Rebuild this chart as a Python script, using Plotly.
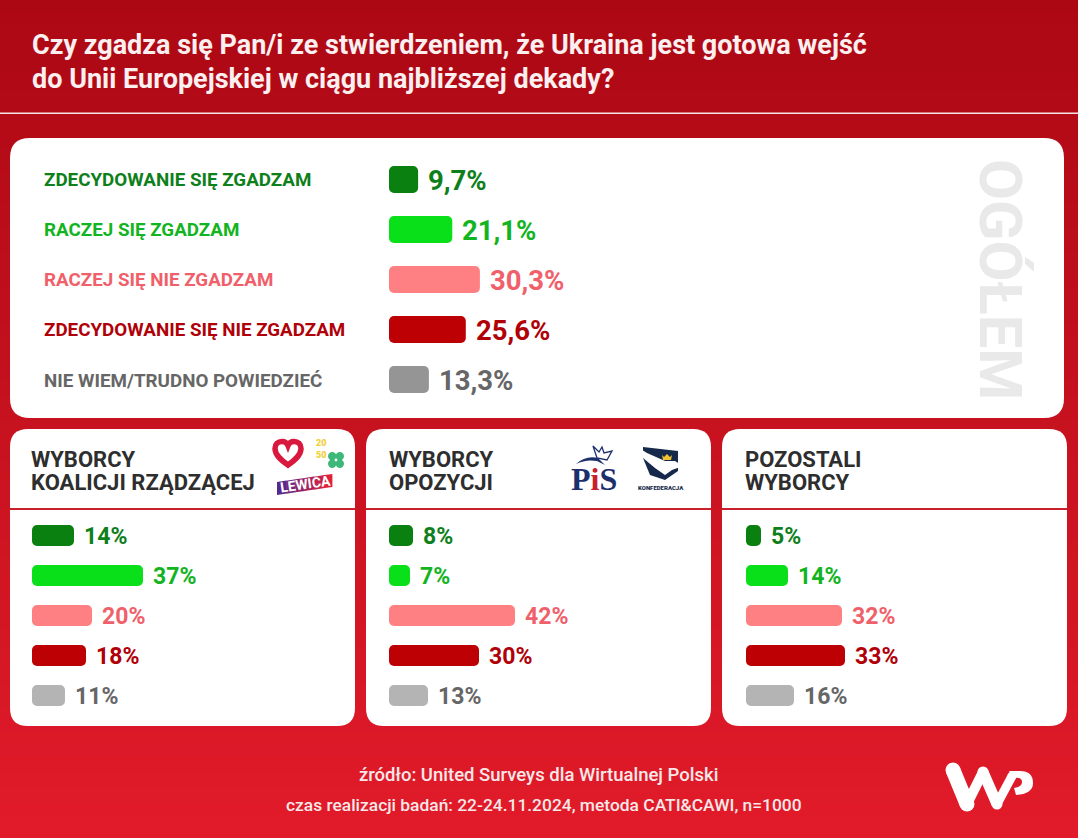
import plotly.graph_objects as go

W, H = 1078, 838

ANSWERS = [
    "ZDECYDOWANIE SIĘ ZGADZAM",
    "RACZEJ SIĘ ZGADZAM",
    "RACZEJ SIĘ NIE ZGADZAM",
    "ZDECYDOWANIE SIĘ NIE ZGADZAM",
    "NIE WIEM/TRUDNO POWIEDZIEĆ",
]
OVERALL = [9.7, 21.1, 30.3, 25.6, 13.3]
COALITION = [14, 37, 20, 18, 11]
OPPOSITION = [8, 7, 42, 30, 13]
OTHERS = [5, 14, 32, 33, 16]

BAR_COLORS = ["#0A8011", "#0AE01A", "#FF8082", "#BC0004", "#959595"]
SMALL_BAR_COLORS = ["#0A8011", "#0AE01A", "#FF8082", "#BC0004", "#B4B4B4"]
TEXT_COLORS = ["#0E801B", "#12B421", "#F0606A", "#B00008", "#666666"]

TITLE_LINES = [
    "Czy zgadza się Pan/i ze stwierdzeniem, że Ukraina jest gotowa wejść",
    "do Unii Europejskiej w ciągu najbliższej dekady?",
]
PANEL_TITLES = [
    ["WYBORCY", "KOALICJI RZĄDZĄCEJ"],
    ["WYBORCY", "OPOZYCJI"],
    ["POZOSTALI", "WYBORCY"],
]
SOURCE = "źródło: United Surveys dla Wirtualnej Polski"
METHOD = "czas realizacji badań: 22-24.11.2024, metoda CATI&CAWI, n=1000"

FONT = "Roboto"


def rounded(x0, y0, x1, y1, r):
    return (
        f"M {x0 + r} {y0} L {x1 - r} {y0} Q {x1} {y0} {x1} {y0 + r} "
        f"L {x1} {y1 - r} Q {x1} {y1} {x1 - r} {y1} L {x0 + r} {y1} "
        f"Q {x0} {y1} {x0} {y1 - r} L {x0} {y0 + r} Q {x0} {y0} {x0 + r} {y0} Z"
    )


def mix(a, b, t):
    return "rgb(%d,%d,%d)" % tuple(round(a[i] + (b[i] - a[i]) * t) for i in range(3))


shapes = []
annotations = []


def rect(x0, y0, x1, y1, color, layer="below"):
    shapes.append(dict(type="rect", xref="x", yref="y", x0=x0, y0=y0, x1=x1, y1=y1,
                       fillcolor=color, line_width=0, layer=layer))


def path(d, fill=None, line=None, width=0):
    shapes.append(dict(type="path", xref="x", yref="y", path=d, layer="above",
                       fillcolor=fill or "rgba(0,0,0,0)",
                       line=dict(color=line or "rgba(0,0,0,0)", width=width)))


def circle(cx, cy, r, color):
    shapes.append(dict(type="circle", xref="x", yref="y", x0=cx - r, y0=cy - r,
                       x1=cx + r, y1=cy + r, fillcolor=color, line_width=0, layer="above"))


def stroke(a, b, width, color="white"):
    # straight stroke with round ends
    path(f"M {a[0]} {a[1]} L {b[0]} {b[1]}", line=color, width=width)
    circle(a[0], a[1], width / 2, color)
    circle(b[0], b[1], width / 2, color)


def text(x, y, s, size, color, anchor="left", weight=400, family=FONT, angle=0):
    # annotations carry about 2 px of padding on the left
    if anchor == "left":
        x -= 2
    annotations.append(dict(xref="x", yref="y", x=x, y=y, text=s, showarrow=False,
                            xanchor=anchor, yanchor="middle", textangle=angle,
                            font=dict(family=family, size=size, color=color, weight=weight)))


# background
for y in range(0, H, 6):
    rect(0, y, W, y + 6, mix((172, 8, 20), (226, 27, 42), y / H))
rect(0, 112.5, W, 114, "#F4E6E6")

# panels
PANELS = [(10, 355), (366, 711), (722, 1067)]
shapes.append(dict(type="path", xref="x", yref="y", path=rounded(10, 138, 1064, 418, 20),
                   fillcolor="white", line_width=0, layer="below"))
for x0, x1 in PANELS:
    shapes.append(dict(type="path", xref="x", yref="y", path=rounded(x0, 429, x1, 726, 18),
                       fillcolor="white", line_width=0, layer="below"))
    rect(x0, 508, x1, 510, "#C9202C")

# texts
for y, line in zip([45, 79], TITLE_LINES):
    text(32, y, line, 27, "#FBEFEF", weight=700)
text(538, 775, SOURCE, 18.5, "#F8E8E8", "center", 500)
text(544, 805, METHOD, 17.4, "#F8E8E8", "center", 500)
text(1000, 279, "OGÓŁEM", 59.5, "#E9E9E9", "center", 700, angle=90)

for i, (name, y) in enumerate(zip(ANSWERS, [180, 230, 280, 330, 381])):
    text(44, y, name, 18.8, TEXT_COLORS[i], weight=700)

for (x0, x1), lines in zip(PANELS, PANEL_TITLES):
    tx = x0 + 21 + (2 if x0 > 10 else 0)
    text(tx, 459, lines[0], 22, "#2E2E2E", weight=700)
    text(tx, 482, lines[1], 22, "#2E2E2E", weight=700)

# logos: coalition
path("M 288 465 C 281 460 275 455 275 448.5 C 275 444 278 441.5 282 441.5 C 285 441.5 287 443 288 445.5 "
     "C 289 443 291 441.5 294 441.5 C 298 441.5 301 444 301 448.5 C 301 455 295 460 288 465 Z",
     fill="white", line="#D8183C", width=5.5)
text(321, 449, "20<br>50", 9, "#F2CF3A", "center", 900)
for dx, dy in [(-3.8, -3.8), (3.8, -3.8), (-3.8, 3.8), (3.8, 3.8)]:
    circle(336 + dx, 460 + dy, 4.2, "#3DB878")
LEWICA_STEPS = 6
for k in range(LEWICA_STEPS):
    xa = 277 + 55 * k / LEWICA_STEPS
    xb = 277 + 55 * (k + 1) / LEWICA_STEPS + 0.4
    ya = 482 - 8 * (xa - 277) / 55
    yb = 482 - 8 * (xb - 277) / 55
    path(f"M {xa} {ya} L {xb} {yb} L {xb} {yb + 13} L {xa} {ya + 13} Z",
         fill=mix((88, 40, 140), (224, 32, 60), k / (LEWICA_STEPS - 1)))
text(305, 484, "LEWICA", 14, "white", "center", 700, angle=-8)

# logos: opposition
text(594, 479, 'P<span style="color:#C8202C">i</span>S', 32, "#1C2F6B", "center", 700,
     family="Liberation Serif")
path("M 576 464 Q 586 455 598 458 L 605 465 L 597 461 Q 586 459 576 464 Z", fill="#1C2F6B")
path("M 593 446 L 599 452 L 602 447 L 604 453 L 612 451 L 607 460 L 597 458 Z",
     line="#1C2F6B", width=1.3)
path("M 643 447 L 678 451 L 678 471 L 665 480 L 650 475 L 643 458 Z", fill="#16294A")
path("M 639 448 L 647 453 L 665 461 L 675 461 L 683 466 L 672 470 L 665 475 L 655 468 L 643 458 Z",
     fill="white")
path("M 662 455 L 664 457 L 667 454 L 670 457 L 672 455 L 671 460 L 663 460 Z", fill="#F2C230")
text(661, 487, "KONFEDERACJA", 6, "#16294A", "center", 900)

# logo: WP
stroke((953, 770), (967, 804), 15)
stroke((967, 804), (983, 772), 10)
stroke((983, 772), (997, 804), 11)
stroke((997, 804), (1012, 776), 9)
path("M 1009 771 L 1020 771 Q 1033 771 1033 783 Q 1033 794 1016 795 L 1014 788 "
     "Q 1022 787 1022 782 Q 1022 777 1014 778 Z", fill="white")

# bars, 3 px per percent point on every axis
traces = []
axes = {}
GROUPS = [
    (OVERALL, 389, 154.5, 404.5, BAR_COLORS, 27.5, 10, True, 27 / 50),
    (COALITION, 32, 515.5, 715.5, SMALL_BAR_COLORS, 23, 10, False, 21 / 40),
    (OPPOSITION, 389, 515.5, 715.5, SMALL_BAR_COLORS, 23, 10, False, 21 / 40),
    (OTHERS, 746, 515.5, 715.5, SMALL_BAR_COLORS, 23, 10, False, 21 / 40),
]
for n, (values, left, top, bottom, colors, size, gap, dec, width) in enumerate(GROUPS, start=2):
    right = left + 300
    # an explicit base makes plotly round all four corners, not only the far end
    traces.append(go.Bar(
        x=values, base=[0] * len(values), y=ANSWERS,
        orientation="h", width=width, marker=dict(color=colors, cornerradius=5, line_width=0),
        xaxis=f"x{n}", yaxis=f"y{n}", showlegend=False, hoverinfo="x+y",
    ))
    axes[f"xaxis{n}"] = dict(domain=[left / W, right / W], range=[0, 100], visible=False,
                             anchor=f"y{n}", fixedrange=True)
    axes[f"yaxis{n}"] = dict(domain=[1 - bottom / H, 1 - top / H], type="category",
                             categoryorder="array", categoryarray=ANSWERS,
                             range=[4.5, -0.5], visible=False, anchor=f"x{n}", fixedrange=True)
    for i, v in enumerate(values):
        label = f"{v:.1f}".replace(".", ",") + "%" if dec else f"{v}%"
        annotations.append(dict(xref=f"x{n}", yref=f"y{n}", x=v, y=ANSWERS[i], text=label,
                                xanchor="left", yanchor="middle", xshift=gap - 2, yshift=-1,
                                showarrow=False,
                                font=dict(family=FONT, size=size, color=TEXT_COLORS[i], weight=700)))

fig = go.Figure(traces)
fig.update_layout(
    width=W, height=H, margin=dict(l=0, r=0, t=0, b=0), barmode="overlay",
    paper_bgcolor="#C8101E", plot_bgcolor="rgba(0,0,0,0)",
    xaxis=dict(domain=[0, 1], range=[0, W], visible=False, fixedrange=True),
    yaxis=dict(domain=[0, 1], range=[H, 0], visible=False, fixedrange=True),
    shapes=shapes, annotations=annotations, **axes,
)
fig.write_html("out.html", config=dict(displayModeBar=False),
               post_script="document.body.style.margin='0';document.body.style.overflow='hidden';")
